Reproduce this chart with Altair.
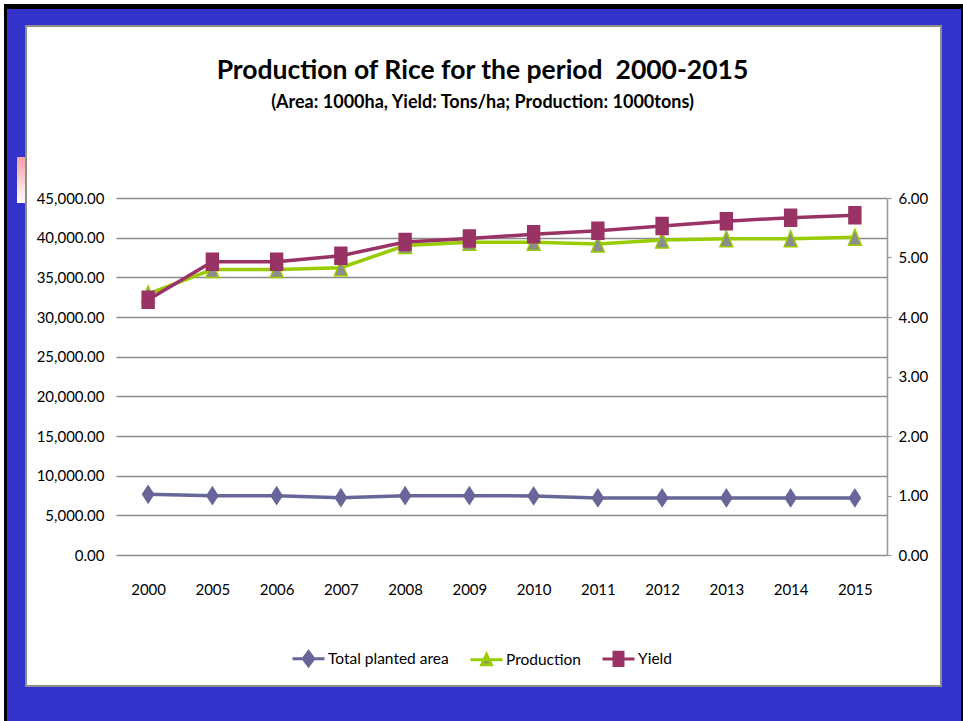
import altair as alt
import pandas as pd

# ---- data -------------------------------------------------------------
years = ["2000", "2005", "2006", "2007", "2008", "2009",
         "2010", "2011", "2012", "2013", "2014", "2015"]
planted_area = [7650, 7480, 7480, 7230, 7480, 7480,
                7440, 7190, 7190, 7190, 7190, 7190]          # 1000 ha
production = [32900, 36000, 36000, 36220, 39000, 39420,
              39430, 39200, 39700, 39870, 39870, 40050]      # 1000 tons
rice_yield = [4.29, 4.93, 4.93, 5.03, 5.26, 5.32,
              5.39, 5.45, 5.53, 5.61, 5.67, 5.71]            # tons / ha

series_names = ["Total planted area", "Production", "Yield"]
line_colors = ["#666699", "#99CC00", "#993366"]
marker_fills = ["#666699", "#8C8C8C", "#993366"]

left_ticks = [0, 5000, 10000, 15000, 20000, 25000, 30000, 35000, 40000, 45000]
right_ticks = [0, 1, 2, 3, 4, 5, 6]

df = pd.DataFrame({
    "year": years * 3,
    "series": [s for s in series_names for _ in years],
    "value": planted_area + production + rice_yield,
})

# ---- layout -----------------------------------------------------------
W, H = 771, 357
PAD_L, PAD_T, PAD_R, PAD_B = 116, 198, 76, 166
FONT = "Lato"
LABEL_SIZE = 15
one_row = alt.Data(values=[{"k": 1}])

x_enc = alt.X(
    "year:O", sort=years,
    scale=alt.Scale(type="point", padding=0.5),
    axis=alt.Axis(title=None, labelAngle=0, domain=False, ticks=False,
                  labelPadding=27, labelFont=FONT, labelFontSize=LABEL_SIZE,
                  labelColor="#000000"),
)

y_left = alt.Y(
    "value:Q",
    scale=alt.Scale(domain=[0, 45000], nice=False),
    axis=alt.Axis(title=None, values=left_ticks, format=",.2f",
                  grid=True, gridColor="#8C8C8C", gridWidth=1.6,
                  domain=False, ticks=False, labelPadding=12,
                  labelFont=FONT, labelFontSize=LABEL_SIZE, labelColor="#000000"),
)

y_right = alt.Y(
    "value:Q",
    scale=alt.Scale(domain=[0, 6], nice=False),
    axis=alt.Axis(title=None, orient="right", values=right_ticks, format=".2f",
                  grid=False, domain=True, domainColor="#9A9A9A", domainWidth=1.6,
                  ticks=True, tickColor="#9A9A9A", tickSize=4, tickWidth=1.2,
                  labelPadding=7, labelFont=FONT, labelFontSize=LABEL_SIZE,
                  labelColor="#000000"),
)

DIAMOND = "M0,-1L0.65,0L0,1L-0.65,0Z"
TRIANGLE = "M0,-1L0.8,1L-0.8,1Z"
SQUARE = "M-0.7,-1H0.7V1H-0.7Z"


def series_layers(name, color, fill, shape, size, y_enc):
    src = alt.Chart(df).transform_filter(alt.datum.series == name)
    line = src.mark_line(color=color, strokeWidth=3.5).encode(x=x_enc, y=y_enc)
    pts = src.mark_point(shape=shape, size=size, filled=True, fill=fill,
                         stroke=color, strokeWidth=1.5, opacity=1).encode(x=x_enc, y=y_enc)
    return [line, pts]


left = alt.layer(
    *series_layers("Total planted area", line_colors[0], marker_fills[0], DIAMOND, 289, y_left),
    *series_layers("Production", line_colors[1], marker_fills[1], TRIANGLE, 256, y_left),
)
right = alt.layer(
    *series_layers("Yield", line_colors[2], marker_fills[2], SQUARE, 289, y_right),
)

# ---- legend (line-through-marker symbols) ------------------------------
legend_paths = [
    "M-1,0H1M0,-0.44L0.33,0L0,0.44L-0.33,0Z",
    "M-1,0H1M0,-0.34L0.3,0.3L-0.3,0.3Z",
    "M-1,0H1M-0.28,-0.42H0.28V0.42H-0.28Z",
]
leg = alt.Legend(title=None, orient="none", legendX=175, legendY=443,
                 direction="horizontal", symbolSize=1024, symbolStrokeWidth=3,
                 labelFont=FONT, labelFontSize=LABEL_SIZE + 0.5, labelColor="#000000",
                 columnPadding=15, labelOffset=2)
legend_layer = alt.Chart(df).transform_filter("false").mark_point(
    filled=True, opacity=1, strokeWidth=3
).encode(
    shape=alt.Shape("series:N", scale=alt.Scale(domain=series_names, range=legend_paths), legend=leg),
    fill=alt.Fill("series:N", scale=alt.Scale(domain=series_names, range=marker_fills), legend=leg),
    stroke=alt.Stroke("series:N", scale=alt.Scale(domain=series_names, range=line_colors), legend=leg),
)


# ---- slide frame --------------------------------------------------------
def block(x0, x1, y0, y1, color):
    return alt.Chart(one_row).mark_rect(color=color).encode(
        x=alt.value(x0 - PAD_L), x2=alt.value(x1 - PAD_L),
        y=alt.value(y0 - PAD_T), y2=alt.value(y1 - PAD_T))


BLUE = "#3333CC"
frame = [
    block(4, 963, 4, 9, "#000000"),
    block(4, 7, 4, 721, "#000000"),
    block(961, 963, 4, 721, "#000000"),
    block(7, 961, 9, 26, BLUE),
    block(7, 961, 686, 721, BLUE),
    block(7, 25, 26, 686, BLUE),
    block(941, 961, 26, 686, BLUE),
    alt.Chart(one_row).mark_rect(fillOpacity=0, stroke="#8C8C8C", strokeWidth=2).encode(
        x=alt.value(26 - PAD_L), x2=alt.value(941 - PAD_L),
        y=alt.value(26 - PAD_T), y2=alt.value(686 - PAD_T)),
    alt.Chart(one_row).mark_rect(
        color=alt.LinearGradient(
            gradient="linear", x1=0, x2=0, y1=0, y2=1,
            stops=[alt.GradientStop(color="#F4A0A0", offset=0),
                   alt.GradientStop(color="#FFFFFF", offset=1)])
    ).encode(x=alt.value(17 - PAD_L), x2=alt.value(25 - PAD_L),
             y=alt.value(157 - PAD_T), y2=alt.value(203 - PAD_T)),
]

title = alt.Chart(one_row).mark_text(
    text="Production of Rice for the period\u00a0 2000-2015", font=FONT, fontSize=26.5,
    fontWeight="bold", align="center", baseline="alphabetic", color="#000000"
).encode(x=alt.value(482.5 - PAD_L), y=alt.value(79 - PAD_T))

subtitle = alt.Chart(one_row).mark_text(
    text="(Area: 1000ha, Yield: Tons/ha; Production: 1000tons)", font=FONT, fontSize=18,
    fontWeight="bold", align="center", baseline="alphabetic", color="#000000"
).encode(x=alt.value(482.5 - PAD_L), y=alt.value(108 - PAD_T))

chart = alt.layer(
    *frame, left, right, legend_layer, title, subtitle
).resolve_scale(
    y="independent"
).properties(
    width=W, height=H,
    autosize=alt.AutoSizeParams(type="none"),
    padding={"left": PAD_L, "top": PAD_T, "right": PAD_R, "bottom": PAD_B},
    background="#FFFFFF",
).configure_view(strokeWidth=0)

chart.save("out.html", embed_options={"renderer": "svg", "actions": False})
